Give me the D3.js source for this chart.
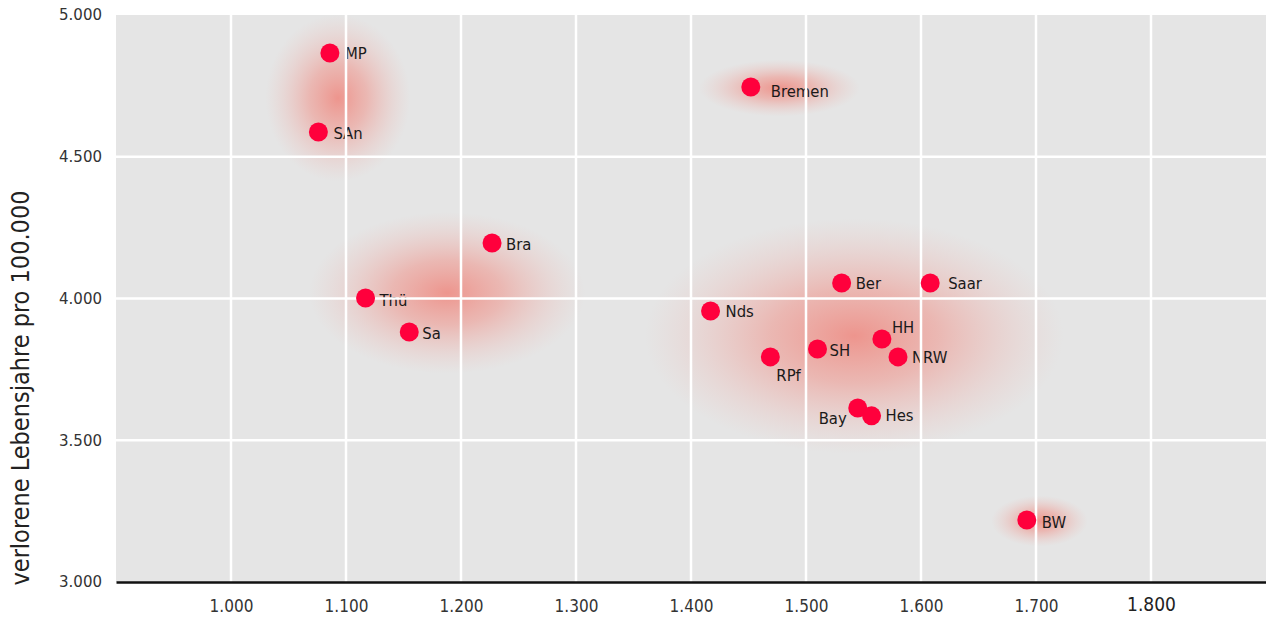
<!DOCTYPE html>
<html>
<head>
<meta charset="utf-8">
<script src="https://cdn.jsdelivr.net/npm/d3@7"></script>
<style>
  body { margin: 0; background: #fff; }
  svg { display: block; }
</style>
</head>
<body>
<svg id="chart"></svg>
<script>
// Bundesländer: x = ?, y = verlorene Lebensjahre pro 100.000
const labels = ["MP", "SAn", "Bremen", "Bra", "Thü", "Sa", "Nds", "Ber", "Saar", "HH", "SH", "NRW", "RPf", "Bay", "Hes", "BW"];
const xValues = [1086, 1076, 1452, 1227, 1117, 1155, 1417, 1531, 1608, 1566, 1510, 1580, 1469, 1545, 1557, 1692];
const yValues = [4866, 4587, 4746, 4196, 4002, 3882, 3956, 4055, 4055, 3857, 3822, 3794, 3794, 3614, 3586, 3219];

// label placement relative to the dot (dx, dy, anchor)
const labelDx = [15, 15, 20, 14, 14, 13, 15, 14, 18, 10, 12, 14, 6, -11, 14, 15];
const labelDy = [0, 1, 4, 1, 2, 1, 0, 0, 0, -12, 1, 0, 18, 10, -1, 2];
const labelAnchor = ["start", "start", "start", "start", "start", "start", "start", "start", "start", "start", "start", "start", "start", "end", "start", "start"];

// cluster glows: centre and radii in data units
const clusterX = [1093, 1477, 1188, 1542, 1703];
const clusterY = [4707, 4742, 4020, 3868, 3215];
const clusterRx = [63, 70, 120, 182, 42];
const clusterRy = [295, 100, 285, 415, 90];

const xTicks = [1000, 1100, 1200, 1300, 1400, 1500, 1600, 1700, 1800];
const yTicks = [3000, 3500, 4000, 4500, 5000];

const width = 1266;
const height = 619;
const margin = { top: 15, right: 0, bottom: 37, left: 116 };

const de = d3.formatLocale({ decimal: ",", thousands: ".", grouping: [3], currency: ["", "€"] });
const fmt = de.format(",");

const svg = d3.select("#chart").attr("width", width).attr("height", height);

const x = d3.scaleLinear().domain([900, 1900]).range([margin.left, width - margin.right]);
const y = d3.scaleLinear().domain([3000, 5000]).range([height - margin.bottom, margin.top]);

const labelFont = "'DejaVu Sans Condensed', 'DejaVu Sans', sans-serif";

svg.append("rect")
  .attr("x", x(900)).attr("y", y(5000))
  .attr("width", x(1900) - x(900)).attr("height", y(3000) - y(5000))
  .attr("fill", "#e5e5e5");

const defs = svg.append("defs");
const grad = defs.append("radialGradient").attr("id", "glow");
grad.append("stop").attr("offset", "0%").attr("stop-color", "#f07a70").attr("stop-opacity", 0.75);
grad.append("stop").attr("offset", "40%").attr("stop-color", "#f08a80").attr("stop-opacity", 0.5);
grad.append("stop").attr("offset", "75%").attr("stop-color", "#f0a098").attr("stop-opacity", 0.2);
grad.append("stop").attr("offset", "100%").attr("stop-color", "#f0b0a8").attr("stop-opacity", 0);

svg.append("g")
  .selectAll("ellipse")
  .data(clusterX)
  .join("ellipse")
  .attr("cx", (d) => x(d))
  .attr("cy", (d, i) => y(clusterY[i]))
  .attr("rx", (d, i) => x(d + clusterRx[i]) - x(d))
  .attr("ry", (d, i) => y(clusterY[i] - clusterRy[i]) - y(clusterY[i]))
  .attr("fill", "url(#glow)");

// point labels (drawn under the grid, as in the original)
svg.append("g")
  .selectAll("text")
  .data(labels)
  .join("text")
  .attr("x", (d, i) => x(xValues[i]) + labelDx[i])
  .attr("y", (d, i) => y(yValues[i]) + labelDy[i])
  .attr("dy", "0.36em")
  .attr("text-anchor", (d, i) => labelAnchor[i])
  .style("font-family", labelFont)
  .style("font-size", "16.5px")
  .attr("fill", "#1a1a1a")
  .text((d) => d);

// grid
const grid = svg.append("g").attr("stroke", "#fff").attr("stroke-width", 2.5);
grid.selectAll(".vx")
  .data(xTicks)
  .join("line")
  .attr("x1", (d) => x(d)).attr("x2", (d) => x(d))
  .attr("y1", y(5000)).attr("y2", y(3000));
grid.selectAll(".hy")
  .data(yTicks.filter((d) => d > 3000 && d < 5000))
  .join("line")
  .attr("x1", x(900)).attr("x2", x(1900))
  .attr("y1", (d) => y(d)).attr("y2", (d) => y(d));

// x axis
const xAxis = svg.append("g")
  .attr("transform", `translate(0,${y(3000)})`)
  .call(d3.axisBottom(x).tickValues(xTicks).tickFormat(fmt).tickSize(0).tickPadding(18));
xAxis.select(".domain").attr("stroke", "#111").attr("stroke-width", 2.5);
xAxis.selectAll("text")
  .style("font-family", labelFont)
  .style("font-size", (d) => (d === 1800 ? "19px" : "17px"))
  .attr("dy", (d) => (d === 1800 ? "0.6em" : "0.71em"))
  .attr("fill", (d) => (d === 1800 ? "#222" : "#333"));

// y tick labels
svg.append("g")
  .selectAll("text")
  .data(yTicks)
  .join("text")
  .attr("x", margin.left - 14)
  .attr("y", (d) => y(d))
  .attr("dy", "0.35em")
  .attr("text-anchor", "end")
  .style("font-family", "'DejaVu Sans', sans-serif")
  .style("font-size", "15px")
  .attr("fill", "#333")
  .text(fmt);

svg.append("text")
  .attr("transform", `translate(20,388) rotate(-90)`)
  .attr("text-anchor", "middle")
  .attr("dy", "0.35em")
  .style("font-family", labelFont)
  .style("font-size", "25px")
  .attr("fill", "#222")
  .text("verlorene Lebensjahre pro 100.000");

// dots on top
svg.append("g")
  .selectAll("circle")
  .data(xValues)
  .join("circle")
  .attr("cx", (d) => x(d))
  .attr("cy", (d, i) => y(yValues[i]))
  .attr("r", 9.5)
  .attr("fill", "#ff003c");
</script>
</body>
</html>
